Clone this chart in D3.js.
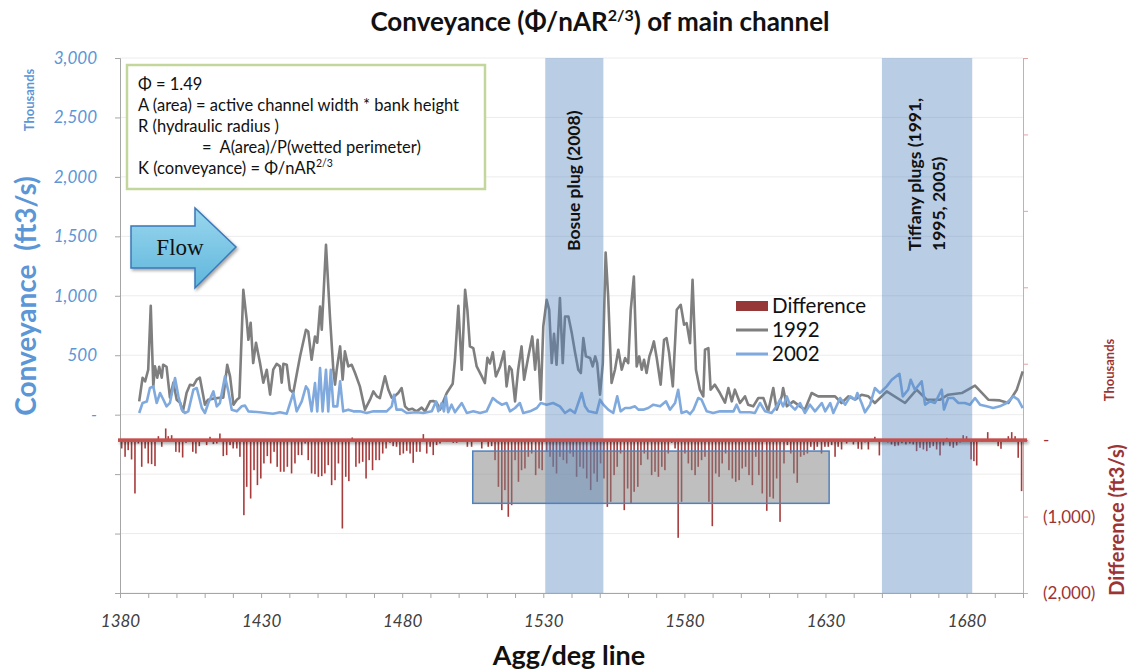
<!DOCTYPE html>
<html>
<head>
<meta charset="utf-8">
<script src="https://cdn.jsdelivr.net/npm/d3@7"></script>
<style>
  body { margin: 0; background: #fff; }
  svg { display: block; }
</style>
</head>
<body>
<svg id="chart" width="1128" height="672"></svg>
<script>
// ---- data -------------------------------------------------------------
const xTickValues = d3.range(1380, 1701, 10);
const xTickLabels = [1380, 1430, 1480, 1530, 1580, 1630, 1680];
const leftTickValues = d3.range(-1500, 3001, 500);
const rightTickValues = d3.range(-2000, 5001, 1000);
const seriesNames = ["Difference", "1992", "2002"];

const plugBands = [
  { lines: ["Bosue plug (2008)"], from: 1530.7, to: 1551.3 },
  { lines: ["Tiffany plugs (1991,", "1995, 2005)"], from: 1650.0, to: 1682.0 }
];

// conveyance in thousands of ft3/s, [station, value]
const conveyance1992 = [
[1386.8,112],[1388.0,311],[1388.9,280],[1390.0,378],[1390.9,916],[1391.8,238],[1392.4,406],[1393.2,311],[1393.9,403],[1394.8,311],[1395.3,420],[1396.5,403],[1397.7,143],[1398.9,269],[1400.1,126],[1401.3,100],[1402.3,28],[1403.6,185],[1404.8,252],[1406.0,245],[1407.2,294],[1408.3,311],[1410.1,84],[1411.2,126],[1413.1,135],[1415.4,143],[1416.6,143],[1418.0,420],[1419.0,322],[1420.2,84],[1421.4,126],[1422.3,143],[1423.7,1050],[1424.9,798],[1425.5,630],[1426.3,773],[1427.2,434],[1428.2,605],[1429.6,437],[1430.8,269],[1432.0,378],[1433.2,168],[1434.3,378],[1435.5,428],[1436.7,406],[1437.3,269],[1437.9,428],[1439.1,420],[1440.2,210],[1441.4,185],[1443.8,490],[1445.9,714],[1446.7,700],[1447.9,462],[1449.1,658],[1449.9,605],[1450.9,910],[1451.5,714],[1453.0,1428],[1454.4,826],[1455.6,378],[1456.2,252],[1456.8,378],[1458.0,574],[1458.9,294],[1459.7,532],[1460.9,406],[1462.1,420],[1463.3,350],[1465.0,238],[1466.8,42],[1468.6,126],[1469.8,196],[1471.0,154],[1472.1,140],[1473.9,322],[1475.1,210],[1476.3,143],[1477.1,150],[1478.6,182],[1479.8,224],[1481.0,70],[1482.2,42],[1483.5,50],[1485.1,28],[1486.9,59],[1488.1,28],[1489.9,112],[1491.0,115],[1492.2,101],[1493.4,42],[1494.6,112],[1495.8,182],[1497.9,260],[1498.7,462],[1499.9,916],[1501.1,378],[1502.3,1050],[1503.1,882],[1504.0,574],[1505.2,560],[1506.4,406],[1508.2,322],[1509.3,266],[1510.2,479],[1511.1,430],[1512.1,524],[1513.2,322],[1514.7,406],[1516.1,532],[1517.0,238],[1518.0,406],[1518.8,378],[1520.0,112],[1521.1,378],[1522.3,574],[1523.2,294],[1524.7,490],[1526.1,658],[1527.1,378],[1528.0,630],[1529.1,126],[1530.0,742],[1531.2,966],[1532.1,882],[1533.0,434],[1533.8,680],[1534.7,420],[1535.9,980],[1536.9,434],[1537.7,826],[1538.9,826],[1540.1,686],[1541.2,532],[1542.4,378],[1543.3,350],[1544.2,644],[1545.1,490],[1546.6,476],[1547.5,406],[1548.4,490],[1549.1,434],[1550.1,168],[1551.1,434],[1552.1,1363],[1553.0,994],[1554.2,266],[1555.4,378],[1556.6,546],[1557.8,378],[1559.0,476],[1560.1,434],[1561.0,882],[1562.1,1162],[1563.1,406],[1564.0,490],[1564.9,378],[1565.7,462],[1566.6,350],[1567.6,490],[1568.4,546],[1569.2,616],[1570.2,476],[1571.6,252],[1572.8,630],[1573.7,644],[1574.6,518],[1575.9,238],[1577.3,882],[1578.7,924],[1579.9,756],[1580.8,770],[1582.0,602],[1582.9,1134],[1584.1,378],[1585.5,210],[1586.7,154],[1587.3,546],[1588.5,560],[1589.3,210],[1590.8,252],[1592.6,182],[1594.4,101],[1595.6,224],[1596.8,112],[1597.9,210],[1599.7,98],[1601.5,154],[1602.6,84],[1604.4,70],[1606.2,140],[1608.0,140],[1609.7,28],[1611.5,224],[1612.7,42],[1614.5,154],[1615.0,224],[1616.3,70],[1618.6,112],[1621.0,70],[1622.7,42],[1625.1,182],[1627.4,154],[1630.4,154],[1633.4,154],[1635.7,98],[1638.1,154],[1640.5,126],[1642.8,168],[1645.2,154],[1647.5,98],[1651.7,196],[1658.2,98],[1662.3,210],[1665.9,126],[1670.6,126],[1673.5,168],[1678.3,182],[1683.0,244],[1687.7,126],[1691.8,120],[1694.8,98],[1697.8,210],[1699.9,364]
];

const conveyance2002 = [
[1386.8,14],[1388.0,98],[1389.5,110],[1390.6,224],[1391.8,238],[1393.0,98],[1394.2,182],[1395.3,130],[1396.5,70],[1397.7,100],[1399.5,308],[1400.7,154],[1401.9,42],[1403.0,14],[1404.2,28],[1406.0,210],[1407.2,224],[1409.0,56],[1410.1,14],[1411.3,98],[1413.1,196],[1414.3,70],[1415.4,98],[1417.2,322],[1418.4,196],[1419.6,42],[1421.4,28],[1423.1,70],[1424.3,76],[1425.5,28],[1429.6,20],[1434.2,8],[1436.7,20],[1439.1,8],[1441.4,182],[1442.6,28],[1444.4,112],[1445.9,238],[1446.7,210],[1447.9,28],[1449.1,266],[1449.9,28],[1450.9,392],[1451.8,28],[1453.0,378],[1453.8,28],[1454.7,378],[1455.6,70],[1457.0,70],[1458.0,280],[1459.1,28],[1460.9,42],[1462.7,28],[1465.0,28],[1467.4,14],[1469.8,28],[1472.1,28],[1474.5,28],[1476.3,70],[1477.1,168],[1478.0,42],[1479.8,42],[1481.6,14],[1485.1,20],[1487.5,14],[1490.5,28],[1492.0,112],[1492.8,28],[1494.0,98],[1494.8,28],[1495.5,154],[1496.3,20],[1497.5,84],[1498.7,20],[1501.1,98],[1502.9,14],[1505.2,28],[1507.6,14],[1509.9,28],[1512.1,140],[1513.5,112],[1515.3,84],[1517.0,98],[1518.2,28],[1520.0,56],[1521.7,98],[1522.9,14],[1525.3,28],[1527.7,56],[1529.1,98],[1531.2,84],[1533.5,98],[1535.9,70],[1537.7,14],[1539.5,42],[1541.2,14],[1543.6,182],[1544.8,70],[1546.0,28],[1548.9,14],[1550.1,126],[1551.3,84],[1553.0,42],[1554.8,14],[1556.2,154],[1557.4,28],[1559.0,56],[1560.7,56],[1562.5,70],[1563.7,42],[1565.4,42],[1567.2,56],[1569.0,84],[1571.4,70],[1573.5,112],[1574.9,42],[1576.7,98],[1577.8,210],[1579.0,14],[1580.8,28],[1582.0,5],[1583.2,42],[1584.9,140],[1586.1,126],[1587.9,28],[1590.2,14],[1592.6,28],[1595.0,28],[1597.4,28],[1598.5,84],[1599.7,20],[1603.3,20],[1605.0,14],[1606.8,98],[1608.6,28],[1610.9,14],[1612.7,70],[1613.9,126],[1615.0,70],[1616.3,154],[1617.4,84],[1619.2,42],[1621.0,98],[1622.7,14],[1624.5,84],[1626.3,28],[1628.7,98],[1629.9,28],[1631.7,98],[1632.8,14],[1635.2,140],[1637.0,84],[1638.8,154],[1640.5,126],[1641.3,182],[1642.8,98],[1644.0,20],[1645.8,84],[1647.5,224],[1649.3,182],[1651.7,238],[1653.5,294],[1656.2,344],[1657.4,154],[1659.3,210],[1660.2,294],[1661.7,210],[1664.1,280],[1665.3,84],[1667.0,112],[1668.8,98],[1670.0,154],[1671.2,210],[1672.0,42],[1673.5,140],[1675.3,140],[1677.1,98],[1679.4,98],[1681.2,84],[1683.0,140],[1684.8,84],[1687.1,70],[1689.4,56],[1691.8,70],[1694.2,98],[1696.6,154],[1698.3,126],[1699.9,56]
];

// difference (2002 - 1992), thousands of ft3/s, [station, value]
const difference = [
[1380.6,-109],[1381.8,-218],[1382.9,-131],[1384.1,-253],[1385.3,-698],[1386.5,-44],[1387.7,-349],[1388.9,-109],[1390.0,-305],[1391.2,-314],[1392.4,-340],[1393.6,52],[1394.8,-87],[1396.2,153],[1397.1,52],[1398.3,65],[1399.8,-153],[1401.0,-161],[1402.2,-227],[1403.4,-35],[1404.6,-22],[1405.8,-153],[1406.9,-175],[1408.1,-79],[1409.3,-22],[1410.7,-65],[1411.9,44],[1413.1,-52],[1414.3,-44],[1415.4,87],[1416.6,-209],[1417.8,-196],[1419.0,-65],[1420.1,-109],[1421.4,-109],[1422.5,-218],[1423.9,-982],[1424.9,-611],[1426.3,-764],[1427.5,-393],[1428.7,-589],[1429.9,-502],[1431.0,-305],[1432.2,-209],[1433.4,-305],[1434.6,-153],[1435.7,-349],[1436.9,-414],[1438.1,-414],[1439.3,-349],[1440.8,-436],[1442.0,-305],[1443.2,-196],[1444.4,-196],[1445.6,-44],[1446.7,-262],[1447.9,-436],[1449.1,-445],[1450.3,-480],[1451.5,-471],[1452.6,-436],[1453.8,-327],[1455.0,-589],[1456.2,-524],[1457.4,-305],[1458.8,-1156],[1460.0,-480],[1461.1,-537],[1462.3,35],[1463.6,-349],[1464.8,-305],[1466.0,-284],[1467.2,-502],[1468.3,-262],[1469.5,-393],[1470.7,-262],[1471.9,-262],[1473.1,-175],[1474.3,-109],[1475.7,-35],[1476.8,-79],[1478.0,-87],[1479.2,-196],[1480.4,-175],[1481.6,-140],[1482.8,-175],[1483.9,-297],[1485.1,-153],[1486.3,-153],[1487.5,79],[1488.7,-175],[1489.9,-87],[1491.0,-196],[1492.2,-65],[1493.4,-44],[1495.8,-22],[1498.1,-35],[1499.3,-35],[1501.7,-13],[1503.1,-87],[1504.6,-87],[1508.2,-109],[1509.3,-10],[1510.5,-87],[1511.7,-79],[1512.9,-262],[1514.1,-611],[1515.3,-916],[1516.4,-654],[1517.6,-1003],[1518.8,-851],[1520.0,-262],[1521.2,-545],[1522.3,-393],[1523.5,-371],[1524.7,-218],[1525.9,-175],[1527.3,-458],[1528.5,-371],[1529.6,-393],[1531.2,-153],[1532.4,-218],[1533.5,-349],[1534.7,-436],[1535.9,-218],[1537.1,-262],[1538.3,-305],[1539.5,-175],[1540.6,-218],[1541.8,-480],[1543.0,-349],[1544.2,-371],[1545.4,-502],[1546.8,-654],[1548.0,-436],[1549.1,-545],[1550.3,-305],[1551.5,-502],[1552.7,-873],[1553.9,-807],[1555.1,-458],[1556.2,-349],[1557.4,-175],[1558.7,-916],[1559.9,-633],[1561.1,-829],[1562.2,-676],[1563.5,-611],[1564.6,-327],[1565.8,-175],[1567.0,-253],[1568.4,-458],[1569.6,-414],[1570.8,-480],[1572.0,-349],[1573.1,-393],[1574.3,-175],[1575.5,-35],[1576.7,-109],[1577.8,-1278],[1579.0,-807],[1580.2,-175],[1581.4,-305],[1582.6,-393],[1583.8,-458],[1584.9,-349],[1586.1,-262],[1587.3,-218],[1588.7,-807],[1589.9,-1126],[1591.1,-436],[1592.3,-480],[1593.4,-305],[1594.6,-175],[1595.8,-393],[1597.0,-502],[1598.2,-545],[1599.4,-524],[1600.5,-371],[1601.7,-349],[1602.9,-458],[1604.1,-589],[1605.3,-218],[1606.4,-458],[1607.6,-698],[1609.2,-925],[1610.3,-742],[1611.5,-764],[1612.7,-502],[1613.9,-1069],[1615.3,-305],[1616.5,-65],[1617.7,-175],[1618.8,-436],[1620.0,-558],[1621.2,-218],[1622.4,-196],[1623.6,-175],[1624.8,-87],[1626.0,-131],[1627.1,-87],[1628.6,-175],[1629.8,-87],[1631.0,-87],[1632.2,-65],[1633.4,-218],[1634.5,-87],[1635.7,-122],[1637.5,-44],[1639.9,-57],[1641.6,-113],[1642.8,-122],[1644.0,-30],[1645.2,-122],[1646.4,-20],[1647.5,44],[1649.1,-200],[1650.7,-20],[1652.1,-30],[1653.4,-57],[1654.6,-79],[1655.8,-70],[1657.1,-40],[1658.5,-57],[1659.9,-44],[1661.1,-57],[1662.3,-144],[1663.5,-100],[1664.7,-122],[1665.9,-144],[1667.0,-100],[1668.2,-79],[1669.4,-122],[1670.6,-200],[1671.8,-70],[1673.0,30],[1674.1,-79],[1675.3,-100],[1676.5,-70],[1677.7,-30],[1678.8,65],[1680.0,52],[1681.6,-253],[1682.6,-275],[1683.6,-332],[1685.5,-20],[1687.5,105],[1689.4,-20],[1691.2,-79],[1692.2,-113],[1693.6,-15],[1694.8,52],[1696.0,105],[1697.2,52],[1698.3,-231],[1699.5,-667]
];

// highlighted reach on the difference panel (stations, thousands ft3/s)
const highlightReach = { from: 1505.0, to: 1631.3, top: -143, bottom: -827 };

// ---- layout -----------------------------------------------------------
const FONT = "Lato, 'Open Sans', sans-serif";
const plot = { left: 120, right: 1023, top: 58, bottom: 593 };
const colors = {
  c1992: "#7f7f7f", c2002: "#80aade", diff: "#a63d3d", diffLegend: "#963838",
  zero: "#c4504d", band: "#4f81bd", leftAxis: "#5b96d6", rightAxis: "#9c3434",
  grid: "#ececec", axis: "#a6a6a6"
};

const svg = d3.select("#chart");
const x = d3.scaleLinear().domain([1380, 1700]).range([plot.left, plot.right]);
const yL = d3.scaleLinear().domain([-1500, 3000]).range([plot.bottom, plot.top]);
const yR = d3.scaleLinear().domain([-2000, 5000]).range([plot.bottom, plot.top]);

const defs = svg.append("defs");
const grad = defs.append("linearGradient").attr("id", "arrowFill")
  .attr("x1", 0).attr("y1", 0).attr("x2", 0).attr("y2", 1);
grad.append("stop").attr("offset", "0%").attr("stop-color", "#9ad7ee");
grad.append("stop").attr("offset", "100%").attr("stop-color", "#5fb6dc");
const shadow = defs.append("filter").attr("id", "soft")
  .attr("filterUnits", "userSpaceOnUse").attr("x", 0).attr("y", 0).attr("width", 1128).attr("height", 672);
shadow.append("feDropShadow").attr("dx", 1.5).attr("dy", 2).attr("stdDeviation", 1.5)
  .attr("flood-color", "#000").attr("flood-opacity", 0.35);

// title
const title = svg.append("text").attr("x", 600).attr("y", 31).attr("text-anchor", "middle")
  .attr("font-family", FONT).attr("font-weight", "bold").attr("font-size", 26).attr("fill", "#111");
title.append("tspan").text("Conveyance (Φ/nAR");
title.append("tspan").attr("font-size", 16).attr("dy", -10).text("2/3");
title.append("tspan").attr("dy", 10).text(") of main channel");

// gridlines
svg.append("g").selectAll("line").data(leftTickValues).join("line")
  .attr("x1", plot.left).attr("x2", plot.right)
  .attr("y1", d => yL(d)).attr("y2", d => yL(d))
  .attr("stroke", colors.grid).attr("stroke-width", 1);

// left axis
const leftAxis = svg.append("g").attr("transform", `translate(${plot.left},0)`)
  .call(d3.axisLeft(yL).tickValues(leftTickValues).tickSize(5).tickPadding(18)
    .tickFormat(d => d > 0 ? d3.format(",")(d) : d === 0 ? "-" : ""));
leftAxis.select(".domain").attr("stroke", colors.axis);
leftAxis.selectAll(".tick line").attr("stroke", colors.axis);
leftAxis.selectAll("text").attr("font-family", FONT).attr("font-style", "italic")
  .attr("font-size", 17).attr("fill", colors.leftAxis);

// right axis
const rightAxis = svg.append("g").attr("transform", `translate(${plot.right},0)`)
  .call(d3.axisRight(yR).tickValues(rightTickValues).tickSize(5).tickPadding(15)
    .tickFormat(d => d === 0 ? "-" : d < 0 ? "(" + d3.format(",")(-d) + ")" : ""));
rightAxis.select(".domain").attr("stroke", "#e3a3a3");
rightAxis.selectAll(".tick line").attr("stroke", "#e3a3a3");
rightAxis.selectAll("text").attr("font-family", FONT).attr("font-size", 17)
  .attr("fill", colors.rightAxis);

// bottom axis
const bottomAxis = svg.append("g").attr("transform", `translate(0,${plot.bottom})`)
  .call(d3.axisBottom(x).tickValues(xTickValues).tickSize(5).tickPadding(17)
    .tickFormat(d => xTickLabels.includes(d) ? d : ""));
bottomAxis.select(".domain").attr("stroke", colors.axis);
bottomAxis.selectAll(".tick line").attr("stroke", colors.axis);
bottomAxis.selectAll("text").attr("font-family", FONT).attr("font-style", "italic")
  .attr("font-size", 17).attr("fill", "#404040");

// difference bars
svg.append("g").selectAll("rect").data(difference).join("rect")
  .attr("x", d => x(d[0]) - 0.8).attr("width", 1.6)
  .attr("y", d => yR(Math.max(0, d[1])))
  .attr("height", d => Math.abs(yR(d[1]) - yR(0)))
  .attr("fill", colors.diff);

// conveyance lines
const line = d3.line().x(d => x(d[0])).y(d => yL(d[1]));
svg.append("path").datum(conveyance1992).attr("d", line).attr("fill", "none")
  .attr("stroke", colors.c1992).attr("stroke-width", 2.6).attr("stroke-linejoin", "round");
svg.append("path").datum(conveyance2002).attr("d", line).attr("fill", "none")
  .attr("stroke", colors.c2002).attr("stroke-width", 2.6).attr("stroke-linejoin", "round");

// highlighted reach box
svg.append("rect")
  .attr("x", x(highlightReach.from)).attr("width", x(highlightReach.to) - x(highlightReach.from))
  .attr("y", yR(highlightReach.top)).attr("height", yR(highlightReach.bottom) - yR(highlightReach.top))
  .attr("fill", "#7f7f7f").attr("fill-opacity", 0.5)
  .attr("stroke", "#4f81bd").attr("stroke-width", 1.5);

// plug bands
const bands = svg.append("g").selectAll("g").data(plugBands).join("g");
bands.append("rect")
  .attr("x", d => x(d.from)).attr("width", d => x(d.to) - x(d.from))
  .attr("y", plot.top).attr("height", plot.bottom - plot.top)
  .attr("fill", colors.band).attr("fill-opacity", 0.4);

// zero line of the difference axis
svg.append("rect").attr("x", plot.left - 2).attr("width", plot.right - plot.left + 6)
  .attr("y", yR(0) - 1.8).attr("height", 3.6)
  .attr("fill", colors.zero).attr("filter", "url(#soft)");

bands.each(function(d) {
  const cx = (x(d.from) + x(d.to)) / 2;
  const n = d.lines.length;
  const t = d3.select(this).append("text")
    .attr("transform", `translate(${cx},251) rotate(-90)`)
    .attr("font-family", FONT).attr("font-weight", "bold").attr("font-size", 17.5).attr("fill", "#111");
  d.lines.forEach((s, i) => {
    t.append("tspan").attr("x", 0).attr("y", (i - (n - 1) / 2) * 24 + 6).text(s);
  });
});

// legend
const legend = svg.append("g").attr("font-family", FONT).attr("font-size", 20.5).attr("fill", "#111");
const legendRows = [
  { name: seriesNames[0], y: 306 },
  { name: seriesNames[1], y: 330 },
  { name: seriesNames[2], y: 354 }
];
legend.append("rect").attr("x", 736).attr("y", legendRows[0].y - 5).attr("width", 32).attr("height", 10)
  .attr("fill", colors.diffLegend);
legend.append("line").attr("x1", 736).attr("x2", 768).attr("y1", legendRows[1].y).attr("y2", legendRows[1].y)
  .attr("stroke", colors.c1992).attr("stroke-width", 3);
legend.append("line").attr("x1", 736).attr("x2", 768).attr("y1", legendRows[2].y).attr("y2", legendRows[2].y)
  .attr("stroke", colors.c2002).attr("stroke-width", 3);
legend.selectAll("text").data(legendRows).join("text")
  .attr("x", 772).attr("y", d => d.y).attr("dy", "0.35em").text(d => d.name);

// formula box
const box = svg.append("g");
box.append("rect").attr("x", 127).attr("y", 65).attr("width", 358).attr("height", 124)
  .attr("fill", "#fff").attr("stroke", "#c3d69b").attr("stroke-width", 2.5);
const boxText = box.append("g").attr("font-family", FONT).attr("font-size", 16.5).attr("fill", "#111");
boxText.append("text").attr("x", 138).attr("y", 90).text("Φ = 1.49");
boxText.append("text").attr("x", 138).attr("y", 111).text("A (area) = active channel width * bank height");
boxText.append("text").attr("x", 138).attr("y", 132).text("R (hydraulic radius )");
boxText.append("text").attr("x", 202).attr("y", 153).attr("xml:space", "preserve").text("=  A(area)/P(wetted perimeter)");
const kLine = boxText.append("text").attr("x", 138).attr("y", 174);
kLine.append("tspan").text("K (conveyance) = Φ/nAR");
kLine.append("tspan").attr("font-size", 10.5).attr("dy", -7).text("2/3");

// flow arrow
const arrowPts = [[131,226],[195,226],[195,208],[236,247],[195,288],[195,268],[131,268]];
svg.append("path").attr("d", d3.line()(arrowPts) + "Z")
  .attr("fill", "url(#arrowFill)").attr("stroke", "#3a78b8").attr("stroke-width", 1.5)
  .attr("filter", "url(#soft)");
svg.append("text").attr("x", 180).attr("y", 255).attr("text-anchor", "middle")
  .attr("font-family", "'Liberation Serif', 'DejaVu Serif', serif").attr("font-size", 23)
  .attr("fill", "#111").text("Flow");

// axis titles
svg.append("text").attr("transform", "translate(36,296) rotate(-90)").attr("text-anchor", "middle")
  .attr("font-family", FONT).attr("font-weight", "bold").attr("font-size", 28)
  .attr("fill", colors.leftAxis).attr("xml:space", "preserve").text("Conveyance  (ft3/s)");
svg.append("text").attr("transform", "translate(34,100) rotate(-90)").attr("text-anchor", "middle")
  .attr("font-family", FONT).attr("font-weight", "bold").attr("font-size", 13)
  .attr("fill", colors.leftAxis).text("Thousands");
svg.append("text").attr("transform", "translate(1124,520) rotate(-90)").attr("text-anchor", "middle")
  .attr("font-family", FONT).attr("font-weight", "bold").attr("font-size", 20)
  .attr("fill", colors.rightAxis).text("Difference (ft3/s)");
svg.append("text").attr("transform", "translate(1114,370) rotate(-90)").attr("text-anchor", "middle")
  .attr("font-family", FONT).attr("font-weight", "bold").attr("font-size", 13)
  .attr("fill", colors.rightAxis).text("Thousands");
svg.append("text").attr("x", 569).attr("y", 665).attr("text-anchor", "middle")
  .attr("font-family", FONT).attr("font-weight", "bold").attr("font-size", 27)
  .attr("fill", "#111").text("Agg/deg line");
</script>
</body>
</html>
